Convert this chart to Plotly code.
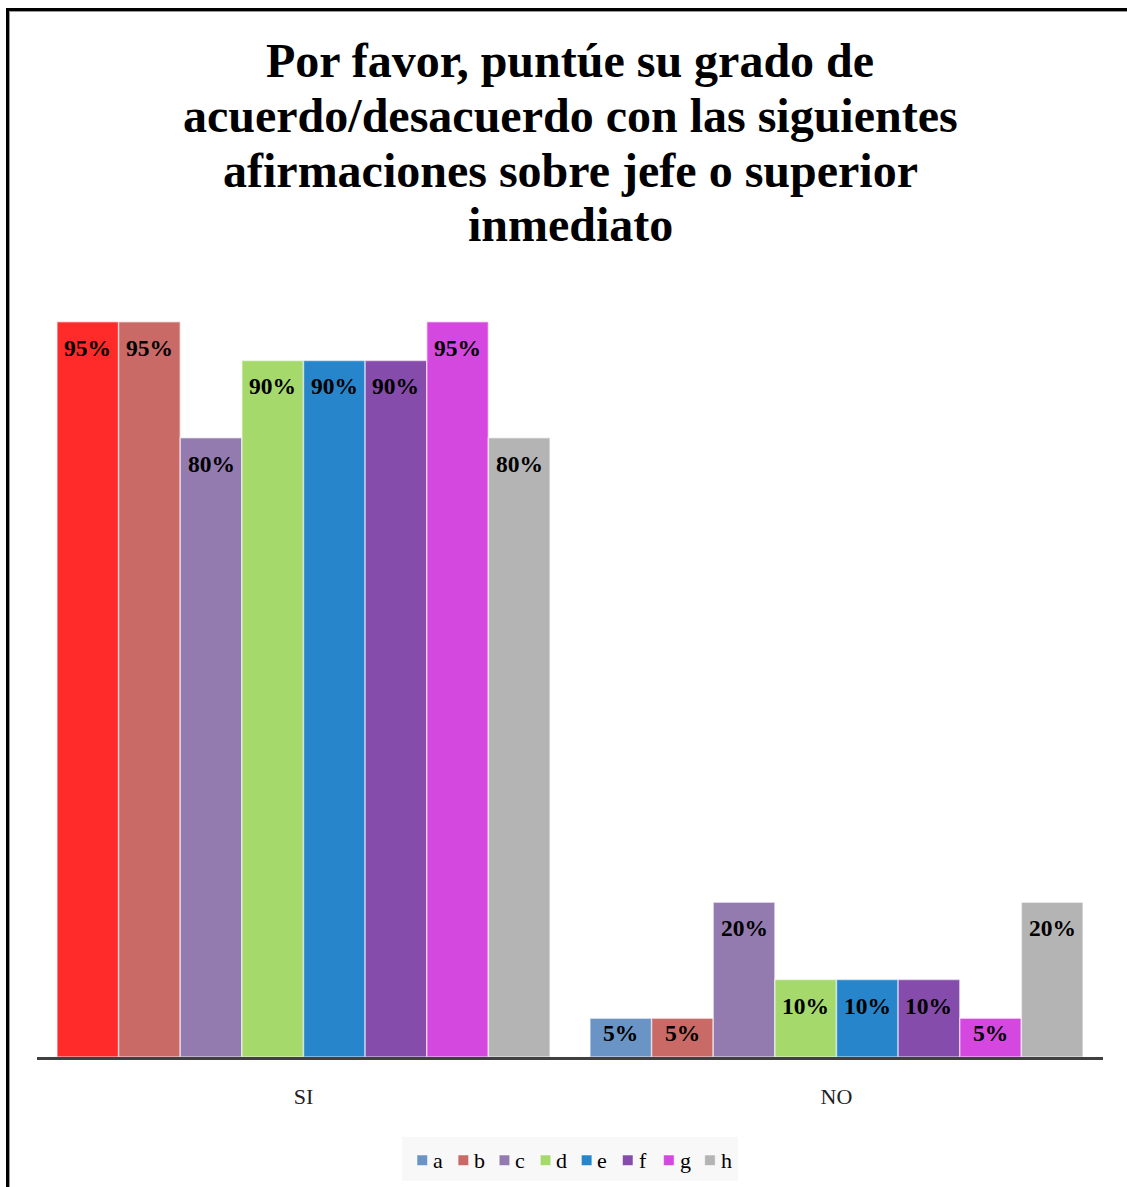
import plotly.graph_objects as go

categories = ["SI", "NO"]
series_names = ["a", "b", "c", "d", "e", "f", "g", "h"]
si_values = [0.95, 0.95, 0.80, 0.90, 0.90, 0.90, 0.95, 0.80]
no_values = [0.05, 0.05, 0.20, 0.10, 0.10, 0.10, 0.05, 0.20]
si_colors = ["#FF2A2A", "#C96A66", "#937BB0", "#A5D96C", "#2786CB", "#854CAB", "#D448E0", "#B4B4B4"]
no_colors = ["#6A93C6", "#C96A66", "#937BB0", "#A5D96C", "#2786CB", "#854CAB", "#D448E0", "#B4B4B4"]
legend_colors = no_colors
title_lines = ["Por favor, puntúe su grado de", "acuerdo/desacuerdo con las siguientes",
               "afirmaciones sobre jefe o superior", "inmediato"]

W, H = 1127, 1187
ML, MR, MT, MB = 37, 24, 283, 130
plot_w = W - ML - MR
plot_h = H - MT - MB
bargap = 0.075
n = len(series_names)
bar_px = plot_w / len(categories) * (1 - bargap) / n


def px_x(p):
    return (p - ML) / plot_w


def px_y(p):
    return (H - MB - p) / plot_h


FONT = "Liberation Serif"
fig = go.Figure()
annotations = []
shapes = []
for i, name in enumerate(series_names):
    vals = [si_values[i], no_values[i]]
    cols = [si_colors[i], no_colors[i]]
    fig.add_trace(go.Bar(
        name=name, x=categories, y=vals,
        marker=dict(color=cols, line=dict(color="rgba(255,255,255,0.55)", width=1.5)),
        showlegend=False, hoverinfo="skip",
    ))
    for c, v in zip(categories, vals):
        hpx = v * plot_h
        off = min(26, hpx / 2 - 5)
        annotations.append(dict(
            x=c, y=v, xref="x", yref="y", text="<b>%d%%</b>" % round(v * 100),
            showarrow=False, xshift=(i - (n - 1) / 2) * bar_px, yshift=-off,
            font=dict(family=FONT, size=23.5, color="#000000"),
            xanchor="center", yanchor="middle",
        ))

# title lines
for k, line in enumerate(title_lines):
    annotations.append(dict(
        x=0.5, xref="paper", y=px_y(60 + 55 * k), yref="paper",
        text="<b>%s</b>" % line, showarrow=False, xanchor="center", yanchor="middle",
        font=dict(family=FONT, size=48, color="#000000"),
    ))

# legend (manual, compact like the original)
leg_left, leg_right, leg_top, leg_bot = 402, 738, 1137, 1181
shapes.append(dict(type="rect", xref="paper", yref="paper",
                   x0=px_x(leg_left), x1=px_x(leg_right), y0=px_y(leg_bot), y1=px_y(leg_top),
                   fillcolor="#F8F8F8", line=dict(width=0), layer="below"))
step = 41.1
for i, name in enumerate(series_names):
    sx = 417 + i * step
    shapes.append(dict(type="rect", xref="paper", yref="paper",
                       x0=px_x(sx), x1=px_x(sx + 10.5), y0=px_y(1165.5), y1=px_y(1155),
                       fillcolor=legend_colors[i], line=dict(color="rgba(255,255,255,0.5)", width=1)))
    annotations.append(dict(
        x=px_x(sx + 14), xref="paper", y=px_y(1160), yref="paper", text=name,
        showarrow=False, xanchor="left", yanchor="middle",
        font=dict(family=FONT, size=22, color="#000000"),
    ))

# outer frame
shapes += [
    dict(type="line", xref="paper", yref="paper", x0=px_x(6), x1=px_x(W + 5),
         y0=px_y(9.5), y1=px_y(9.5), line=dict(color="#000000", width=3)),
    dict(type="line", xref="paper", yref="paper", x0=px_x(7.5), x1=px_x(7.5),
         y0=px_y(8), y1=px_y(H + 5), line=dict(color="#000000", width=3)),
    dict(type="line", xref="paper", yref="paper", x0=px_x(9), x1=px_x(W + 5),
         y0=px_y(11.5), y1=px_y(11.5), line=dict(color="#9A9A9A", width=1)),
    dict(type="line", xref="paper", yref="paper", x0=px_x(9.5), x1=px_x(9.5),
         y0=px_y(11), y1=px_y(H + 5), line=dict(color="#9A9A9A", width=1)),
]

fig.update_layout(
    width=W, height=H,
    margin=dict(l=ML, r=MR, t=MT, b=MB),
    paper_bgcolor="white", plot_bgcolor="white",
    barmode="group", bargap=bargap, bargroupgap=0,
    showlegend=False,
    xaxis=dict(
        showline=True, linecolor="#404040", linewidth=3,
        ticks="outside", ticklen=18, tickcolor="rgba(0,0,0,0)",
        tickfont=dict(family=FONT, size=22, color="#222222"),
        showgrid=False, zeroline=False,
    ),
    yaxis=dict(range=[0, 1], visible=False, showgrid=False, zeroline=False),
    annotations=annotations,
    shapes=shapes,
)

fig.write_html("out.html", config={"displayModeBar": False},
               post_script="document.body.style.margin='0';document.body.style.padding='0';")
